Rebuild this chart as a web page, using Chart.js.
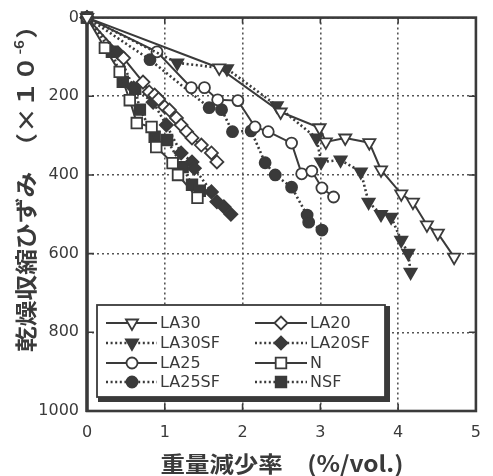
<!DOCTYPE html>
<html><head><meta charset="utf-8">
<script src="https://cdn.jsdelivr.net/npm/chart.js@4"></script>
<style>html,body{margin:0;padding:0;background:#fff}</style>
</head><body>
<canvas id="c" width="493" height="476"></canvas>
<script>
// ---- data ----
const xTicks = [0, 1, 2, 3, 4, 5];
const yTicks = [0, 200, 400, 600, 800, 1000];

const la30X = [0, 1.70, 2.49, 2.99, 3.07, 3.32, 3.63, 3.78, 4.04, 4.19, 4.37, 4.51, 4.72];
const la30Y = [0, 128, 240, 280, 316, 306, 318, 387, 448, 469, 527, 548, 609];

const la30sfX = [0, 1.16, 1.80, 2.44, 2.95, 3.01, 3.26, 3.52, 3.62, 3.78, 3.91, 4.04, 4.13, 4.16];
const la30sfY = [0, 115, 130, 224, 306, 367, 362, 392, 469, 500, 507, 566, 599, 647];

const la25X = [0, 0.90, 1.34, 1.51, 1.68, 1.94, 2.16, 2.33, 2.63, 2.76, 2.89, 3.02, 3.17];
const la25Y = [0, 87, 178, 178, 209, 211, 278, 290, 319, 397, 390, 433, 456];

const la25sfX = [0, 0.81, 1.57, 1.73, 1.87, 2.11, 2.29, 2.42, 2.63, 2.83, 2.85, 3.02];
const la25sfY = [0, 107, 229, 234, 290, 288, 369, 400, 431, 502, 520, 540];

const la20X = [0, 0.47, 0.72, 0.80, 0.87, 0.92, 1.00, 1.06, 1.15, 1.21, 1.28, 1.35, 1.47, 1.60, 1.67];
const la20Y = [0, 103, 164, 189, 197, 207, 227, 235, 255, 273, 290, 306, 324, 344, 367];

const la20sfX = [0, 0.40, 0.60, 0.85, 1.02, 1.21, 1.35, 1.38, 1.60, 1.67, 1.76, 1.85];
const la20sfY = [0, 90, 179, 215, 273, 344, 367, 383, 443, 468, 481, 500];

const nX = [0, 0.23, 0.42, 0.55, 0.64, 0.83, 0.89, 1.10, 1.17, 1.42];
const nY = [0, 77, 138, 210, 268, 278, 329, 370, 400, 458];

const nsfX = [0, 0.32, 0.46, 0.62, 0.68, 0.87, 1.03, 1.23, 1.35, 1.45];
const nsfY = [0, 87, 163, 181, 234, 303, 311, 380, 425, 440];

const xTitle = '重量減少率　(%/vol.)';
const yTitleMain = '乾燥収縮ひずみ　（×１０';
const yTitleSup = '-6';
const yTitleEnd = '）';

// ---- styles ----
const INK = '#3a3a3a';
const TICK_FONT = {family: '"DejaVu Sans", sans-serif', size: 16};

function series(label, xs, ys, style, filled, dotted, radius, rotation) {
  return {
    label,
    data: xs.map((x, i) => ({x, y: ys[i]})),
    showLine: true,
    borderColor: INK,
    borderWidth: dotted ? 2.6 : 2,
    borderDash: dotted ? [2, 2.6] : [],
    pointStyle: style,
    rotation: rotation || 0,
    pointRadius: radius,
    pointHoverRadius: radius,
    pointBackgroundColor: filled ? INK : '#fff',
    pointBorderColor: INK,
    pointBorderWidth: 1.8,
    tension: 0,
    clip: false,
    _filled: filled,
    _dotted: dotted
  };
}

const datasets = [
  series('LA30', la30X, la30Y, 'triangle', false, false, 7, 180),
  series('LA30SF', la30sfX, la30sfY, 'triangle', true, true, 7, 180),
  series('LA25', la25X, la25Y, 'circle', false, false, 5.5),
  series('LA25SF', la25sfX, la25sfY, 'circle', true, true, 5.5),
  series('LA20', la20X, la20Y, 'rectRot', false, false, 6.5),
  series('LA20SF', la20sfX, la20sfY, 'rectRot', true, true, 6.5),
  series('N', nX, nY, 'rect', false, false, 7.5),
  series('NSF', nsfX, nsfY, 'rect', true, true, 7.5)
];

function drawMarker(ctx, ds, x, y) {
  const r = ds.pointRadius;
  ctx.save();
  ctx.beginPath();
  if (ds.pointStyle === 'circle') {
    ctx.arc(x, y, r, 0, Math.PI * 2);
  } else if (ds.pointStyle === 'triangle') {
    let a = Math.PI;
    ctx.moveTo(x + Math.sin(a) * r, y - Math.cos(a) * r);
    a += 2 * Math.PI / 3;
    ctx.lineTo(x + Math.sin(a) * r, y - Math.cos(a) * r);
    a += 2 * Math.PI / 3;
    ctx.lineTo(x + Math.sin(a) * r, y - Math.cos(a) * r);
    ctx.closePath();
  } else if (ds.pointStyle === 'rectRot') {
    ctx.moveTo(x - r, y); ctx.lineTo(x, y - r); ctx.lineTo(x + r, y); ctx.lineTo(x, y + r);
    ctx.closePath();
  } else {
    const s = Math.SQRT1_2 * r;
    ctx.rect(x - s, y - s, 2 * s, 2 * s);
  }
  ctx.fillStyle = ds._filled ? INK : '#fff';
  ctx.fill();
  ctx.lineWidth = 1.8;
  ctx.strokeStyle = INK;
  ctx.stroke();
  ctx.restore();
}

const framePlugin = {
  id: 'frame',
  beforeDatasetsDraw(chart) {
    const {ctx, chartArea: a, scales} = chart;
    ctx.save();
    ctx.strokeStyle = INK;
    ctx.lineWidth = 1.6;
    ctx.beginPath();
    xTicks.slice(1, -1).forEach(v => {
      const px = scales.x.getPixelForValue(v);
      ctx.moveTo(px, a.bottom); ctx.lineTo(px, a.bottom - 7);
      ctx.moveTo(px, a.top); ctx.lineTo(px, a.top + 6);
    });
    yTicks.slice(1, -1).forEach(v => {
      const py = scales.y.getPixelForValue(v);
      ctx.moveTo(a.left, py); ctx.lineTo(a.left + 7, py);
      ctx.moveTo(a.right, py); ctx.lineTo(a.right - 7, py);
    });
    ctx.stroke();
    ctx.lineWidth = 2.6;
    ctx.strokeRect(a.left, a.top, a.right - a.left, a.bottom - a.top);
    ctx.lineWidth = 3.4;
    ctx.beginPath(); ctx.moveTo(a.left, a.top - 1); ctx.lineTo(a.left, a.bottom + 1); ctx.stroke();
    ctx.restore();
  },
  afterDraw(chart) {
    const ctx = chart.ctx;
    // legend box
    const bx = 97, by = 305, bw = 288, bh = 92;
    ctx.save();
    ctx.fillStyle = INK;
    ctx.fillRect(bx + 1, by + 1, bw + 4, bh + 4);
    ctx.fillStyle = '#fff';
    ctx.fillRect(bx, by, bw, bh);
    ctx.strokeStyle = INK;
    ctx.lineWidth = 1.8;
    ctx.strokeRect(bx, by, bw, bh);
    const rows = [323, 343, 363, 382];
    const cols = [{l: 106, r: 157, m: 132, t: 160}, {l: 255, r: 307, m: 281, t: 310}];
    const order = [[0, 1, 2, 3], [4, 5, 6, 7]];
    ctx.font = '16px "DejaVu Sans", sans-serif';
    ctx.textBaseline = 'middle';
    ctx.textAlign = 'left';
    order.forEach((idxs, ci) => {
      const c = cols[ci];
      idxs.forEach((di, ri) => {
        const ds = chart.data.datasets[di];
        const y = rows[ri];
        ctx.save();
        ctx.strokeStyle = INK;
        ctx.lineWidth = ds._dotted ? 2.6 : 2;
        ctx.setLineDash(ds._dotted ? [2, 2.6] : []);
        ctx.beginPath(); ctx.moveTo(c.l, y); ctx.lineTo(c.r, y); ctx.stroke();
        ctx.restore();
        drawMarker(ctx, ds, c.m, y);
        ctx.fillStyle = INK;
        ctx.fillText(ds.label, c.t, y + 1);
      });
    });
    // x title
    ctx.font = 'bold 22px "Noto Sans CJK JP", sans-serif';
    ctx.textAlign = 'left';
    ctx.textBaseline = 'middle';
    const xw = ctx.measureText(xTitle).width;
    const xTarget = 243;
    ctx.save();
    ctx.translate(282 - xTarget / 2, 464);
    ctx.scale(xTarget / xw, 1);
    ctx.fillText(xTitle, 0, 0);
    ctx.restore();
    // y title (rotated)
    ctx.save();
    ctx.translate(26, 352);
    ctx.rotate(-Math.PI / 2);
    const fMain = 'bold 22px "Noto Sans CJK JP", sans-serif';
    const fSup = 'bold 13px "Noto Sans CJK JP", sans-serif';
    ctx.font = fMain; const w1 = ctx.measureText(yTitleMain).width; const w3 = ctx.measureText(yTitleEnd).width;
    ctx.font = fSup; const w2 = ctx.measureText(yTitleSup).width + 2;
    const total = w1 + w2 + w3;
    const yTarget = 339;
    ctx.scale(yTarget / total, 1);
    ctx.font = fMain; ctx.fillText(yTitleMain, 0, 0);
    ctx.font = fSup; ctx.fillText(yTitleSup, w1 + 1, -7);
    ctx.font = fMain; ctx.fillText(yTitleEnd, w1 + w2, 0);
    ctx.restore();
    ctx.restore();
  }
};

new Chart(document.getElementById('c'), {
  type: 'scatter',
  data: {datasets},
  options: {
    responsive: false,
    animation: false,
    events: [],
    layout: {padding: {top: 17, right: 14, left: 0, bottom: 0}},
    plugins: {legend: {display: false}, tooltip: {enabled: false}},
    scales: {
      x: {
        type: 'linear', min: 0, max: 5,
        afterFit: s => { s.height = 65; },
        afterBuildTicks: s => { s.ticks = xTicks.map(v => ({value: v})); },
        ticks: {font: TICK_FONT, color: INK, padding: 12, maxRotation: 0, callback: v => String(v)},
        grid: {color: '#555', lineWidth: 1.6, drawTicks: false},
        border: {display: false, dash: [2, 3]}
      },
      y: {
        type: 'linear', min: 0, max: 1000, reverse: true,
        afterFit: s => { s.width = 87; },
        afterBuildTicks: s => { s.ticks = yTicks.map(v => ({value: v})); },
        ticks: {font: TICK_FONT, color: INK, padding: 8, callback: v => String(v)},
        grid: {color: '#555', lineWidth: 1.6, drawTicks: false},
        border: {display: false, dash: [2, 3]}
      }
    }
  },
  plugins: [framePlugin]
});
</script>
</body></html>
